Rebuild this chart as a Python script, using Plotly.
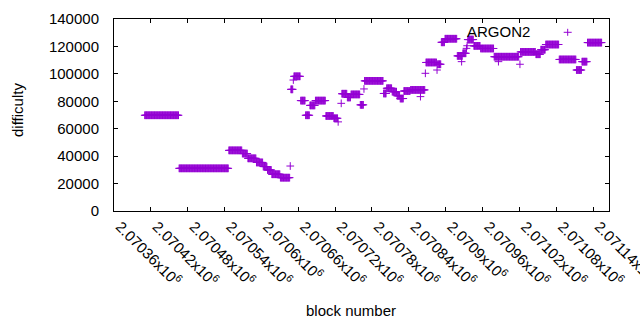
import plotly.graph_objects as go

# Runs of constant difficulty: first block, last block, difficulty
run_first = [2070410, 2070466, 2070547, 2070569, 2070578, 2070592, 2070603, 2070610,
             2070617, 2070631, 2070648, 2070653, 2070664, 2070672, 2070679, 2070688,
             2070705, 2070718, 2070731, 2070740, 2070746, 2070761, 2070768, 2070799,
             2070804, 2070813, 2070821, 2070826, 2070832, 2070843, 2070868, 2070887,
             2070893, 2070899, 2070919, 2070928, 2070936, 2070946, 2070957, 2070979,
             2071022, 2071047, 2071055, 2071063, 2071085, 2071113, 2071122, 2071131]
run_last = [2070465, 2070546, 2070568, 2070577, 2070591, 2070602, 2070609, 2070616,
            2070630, 2070646, 2070651, 2070663, 2070671, 2070678, 2070687, 2070704,
            2070717, 2070724, 2070739, 2070745, 2070760, 2070766, 2070798, 2070803,
            2070812, 2070820, 2070825, 2070831, 2070842, 2070866, 2070885, 2070892,
            2070898, 2070918, 2070927, 2070933, 2070945, 2070956, 2070978, 2071019,
            2071046, 2071054, 2071062, 2071084, 2071112, 2071121, 2071130, 2071154]
run_value = [69800, 31100, 44200, 41900, 38400, 35400, 32400, 29900,
             26800, 24300, 88700, 98200, 80500, 69800, 77000, 80500,
             69300, 67600, 85500, 82800, 85000, 77400, 94900, 85700,
             89500, 87000, 84000, 82000, 87500, 88300, 108300, 107000,
             123000, 125600, 113100, 115000, 125000, 120400, 118500, 112500,
             116000, 114300, 117600, 121400, 110500, 102800, 108900, 122800]

# Isolated blocks
single_block = [2070647, 2070652, 2070725, 2070730, 2070767, 2070859, 2070867, 2070886,
                2070926, 2070934, 2070935, 2070986, 2071021]
single_value = [32800, 95500, 65000, 78500, 89000, 83400, 100400, 102800,
                108900, 118600, 120500, 108900, 107000]

tick_blocks = [2070360, 2070420, 2070480, 2070540, 2070600, 2070660, 2070720,
               2070780, 2070840, 2070900, 2070960, 2071020, 2071080, 2071140]
tick_text = ["2.07036x10<sup>6</sup>", "2.07042x10<sup>6</sup>", "2.07048x10<sup>6</sup>",
             "2.07054x10<sup>6</sup>", "2.0706x10<sup>6</sup>", "2.07066x10<sup>6</sup>",
             "2.07072x10<sup>6</sup>", "2.07078x10<sup>6</sup>", "2.07084x10<sup>6</sup>",
             "2.0709x10<sup>6</sup>", "2.07096x10<sup>6</sup>", "2.07102x10<sup>6</sup>",
             "2.07108x10<sup>6</sup>", "2.07114x10<sup>6</sup>"]

xs, ys = [], []
for a, b, v in zip(run_first, run_last, run_value):
    for blk in range(a, b + 1):
        xs.append(blk)
        ys.append(v)
xs += single_block
ys += single_value

PURPLE = "#9400D3"
FONT = "Liberation Sans, Arial, sans-serif"

fig = go.Figure()
fig.add_trace(go.Scatter(
    x=xs, y=ys, mode="markers",
    marker=dict(symbol="cross-thin-open", size=5.5, color=PURPLE,
                line=dict(color=PURPLE, width=1)),
    showlegend=False, hoverinfo="skip"))

W, H = 640, 330
L, R, T, B = 114, 31, 19, 119
pw, ph = W - L - R, H - T - B

def px(x):
    return (x - L) / pw

def py(y):
    return (H - B - y) / ph

axis_common = dict(showline=True, linecolor="black", linewidth=1, mirror="ticks",
                   ticks="inside", ticklen=4, tickcolor="black", tickwidth=1,
                   showgrid=False, zeroline=False,
                   tickfont=dict(family=FONT, size=15, color="black"))

fig.update_xaxes(range=[2070360, 2071166], tickvals=tick_blocks, ticktext=tick_text,
                 tickangle=45, ticklabelstandoff=0, ticklabelshift=6,
                 ticklabeloverflow="allow", **axis_common)
fig.update_yaxes(range=[0, 140000], tick0=0, dtick=20000, tickformat="d",
                 ticklabelstandoff=11, **axis_common)

fig.add_annotation(text="difficulty", xref="paper", yref="paper",
                   x=px(17), y=py(110), xanchor="center", yanchor="middle",
                   textangle=-90, showarrow=False,
                   font=dict(family=FONT, size=15, color="black"))
fig.add_annotation(text="block number", xref="paper", yref="paper",
                   x=px(351), y=py(310), xanchor="center", yanchor="middle",
                   showarrow=False, font=dict(family=FONT, size=15, color="black"))
fig.add_annotation(text="ARGON2", xref="paper", yref="paper",
                   x=px(532), y=py(31.5), xanchor="right", yanchor="middle",
                   showarrow=False, font=dict(family=FONT, size=15, color="black"))
# key sample
kx, ky = px(567.7), py(32.3)
fig.add_shape(type="line", xref="paper", yref="paper", xsizemode="pixel", xanchor=kx,
              x0=-4, x1=4, y0=ky, y1=ky, line=dict(color=PURPLE, width=1))
fig.add_shape(type="line", xref="paper", yref="paper", ysizemode="pixel", yanchor=ky,
              y0=-3.5, y1=3.5, x0=kx, x1=kx, line=dict(color=PURPLE, width=1))

fig.update_layout(width=W, height=H, margin=dict(l=L, r=R, t=T, b=B, autoexpand=False),
                  plot_bgcolor="white", paper_bgcolor="white",
                  font=dict(family=FONT, size=15, color="black"))

fig.write_html("out.html", config={"displayModeBar": False},
               post_script="document.body.style.margin='0';document.body.style.overflow='hidden';")
